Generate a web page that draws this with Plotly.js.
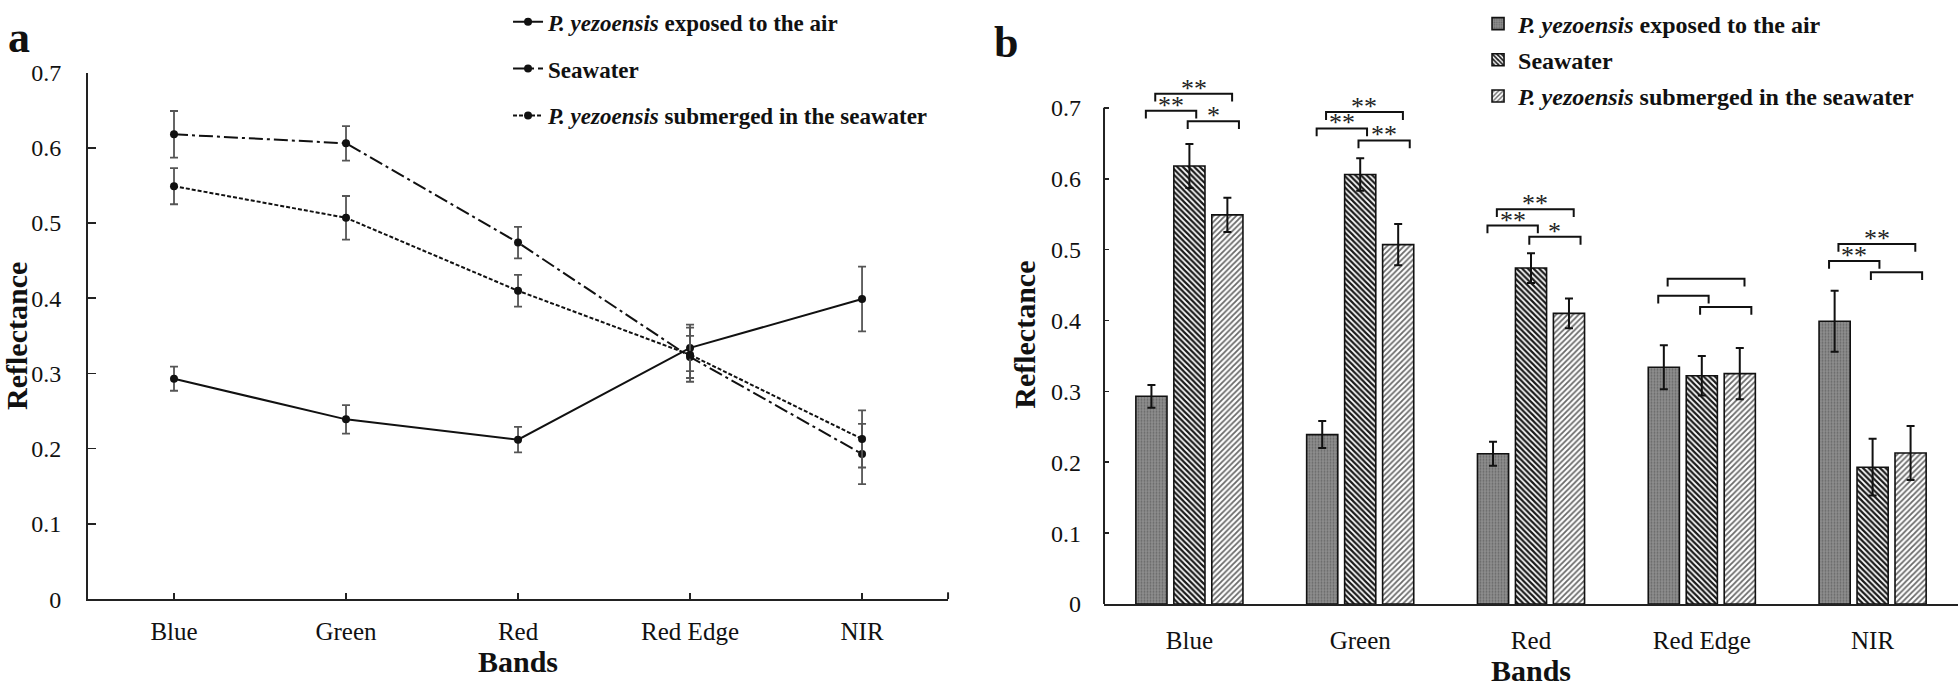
<!DOCTYPE html>
<html>
<head>
<meta charset="utf-8">
<script src="https://cdn.plot.ly/plotly-3.0.1.min.js"></script>
<style>
html,body{margin:0;padding:0;background:#fff;}
#chart{width:1960px;height:687px;}
</style>
</head>
<body>
<div id="chart"></div>
<script>
// ---------- data ----------
const bands = ['Blue', 'Green', 'Red', 'Red Edge', 'NIR'];
const seriesNames = [
  '<b><i>P. yezoensis</i> exposed to the air</b>',
  '<b>Seawater</b>',
  '<b><i>P. yezoensis</i> submerged in the seawater</b>'
];
const airMean = [0.293, 0.239, 0.212, 0.334, 0.399];
const airErr  = [0.016, 0.019, 0.017, 0.031, 0.043];
const seaMean = [0.618, 0.606, 0.474, 0.322, 0.193];
const seaErr  = [0.031, 0.023, 0.021, 0.028, 0.040];
const subMean = [0.549, 0.507, 0.410, 0.325, 0.213];
const subErr  = [0.024, 0.029, 0.021, 0.036, 0.038];
const yTickVals = [0, 0.1, 0.2, 0.3, 0.4, 0.5, 0.6, 0.7];
const yTickText = ['0', '0.1', '0.2', '0.3', '0.4', '0.5', '0.6', '0.7'];
// significance brackets (heights in reflectance units) and their labels
const sigAirSeaY = [0.696, 0.671, 0.534, 0.435, 0.484];
const sigSeaSubY = [0.681, 0.654, 0.518, 0.419, 0.468];
const sigAirSubY = [0.720, 0.694, 0.557, 0.459, 0.508];
const sigAirSeaLabel = ['**', '**', '**', '', '**'];
const sigSeaSubLabel = ['*', '**', '*', '', ''];
const sigAirSubLabel = ['**', '**', '**', '', '**'];

// ---------- styling ----------
const FONT = 'Liberation Serif, Times New Roman, serif';
const INK = '#111';
const xIdx = bands.map((_, i) => i);

const lineDash = ['solid', '14px,4px,3px,4px', '4px,2px'];
const leftMeans = [airMean, seaMean, subMean];
const leftErrs = [airErr, seaErr, subErr];

const traces = [];
leftMeans.forEach((m, k) => {
  traces.push({
    type: 'scatter', mode: 'lines+markers',
    x: xIdx, y: m, name: seriesNames[k],
    xaxis: 'x', yaxis: 'y', legend: 'legend', legendgroup: 'a' + k,
    line: {color: INK, width: 2, dash: lineDash[k]},
    marker: {color: INK, size: 8, symbol: 'circle'},
    error_y: {type: 'data', array: leftErrs[k], visible: true, color: '#555', thickness: 1.8, width: 4},
    hoverinfo: 'skip'
  });
});

const patterns = [
  {shape: '.', bgcolor: '#8e8e8e', fgcolor: '#666', size: 3, solidity: 0.3, fillmode: 'replace'},
  {shape: '\\', bgcolor: '#ffffff', fgcolor: '#1a1a1a', size: 4, solidity: 0.55, fillmode: 'replace'},
  {shape: '/', bgcolor: '#ffffff', fgcolor: '#6a6a6a', size: 4, solidity: 0.45, fillmode: 'replace'}
];
const barColors = ['#8a8a8a', '#333', '#999'];
leftMeans.forEach((m, k) => {
  traces.push({
    type: 'bar',
    x: xIdx, y: m, name: seriesNames[k],
    xaxis: 'x2', yaxis: 'y2', legend: 'legend2', legendgroup: 'b' + k,
    marker: {color: barColors[k], line: {color: INK, width: 1.6}, pattern: patterns[k]},
    error_y: {type: 'data', array: leftErrs[k], visible: true, color: INK, thickness: 2, width: 4},
    hoverinfo: 'skip'
  });
});

// ---------- shapes & annotations ----------
const shapes = [
  // right panel y axis line (stops at 0.7 like the original)
  {type: 'line', xref: 'x2 domain', yref: 'y2', x0: 0, x1: 0, y0: 0, y1: 0.7, line: {color: '#222', width: 2}},
  // end tick of left x axis
  {type: 'line', xref: 'x domain', yref: 'y', x0: 1, x1: 1, y0: 0, y1: 0.009, line: {color: '#222', width: 2}}
];
const annotations = [
  {text: '<b>a</b>', xref: 'paper', yref: 'paper', x: 0.003, y: 0.968, xanchor: 'left', yanchor: 'middle',
   showarrow: false, font: {family: FONT, size: 44, color: INK}},
  {text: '<b>b</b>', xref: 'paper', yref: 'paper', x: 0.506, y: 0.961, xanchor: 'left', yanchor: 'middle',
   showarrow: false, font: {family: FONT, size: 44, color: INK}}
];
const LEG = 0.011;
const bracketDefs = [
  {ys: sigAirSeaY, labels: sigAirSeaLabel, o0: -0.255, o1: 0.04},
  {ys: sigSeaSubY, labels: sigSeaSubLabel, o0: -0.01, o1: 0.29},
  {ys: sigAirSubY, labels: sigAirSubLabel, o0: -0.2, o1: 0.25}
];
bracketDefs.forEach(def => {
  def.ys.forEach((yv, i) => {
    const x0 = i + def.o0, x1 = i + def.o1;
    shapes.push({
      type: 'path', xref: 'x2', yref: 'y2',
      path: `M ${x0},${yv - LEG} L ${x0},${yv} L ${x1},${yv} L ${x1},${yv - LEG}`,
      line: {color: INK, width: 2}
    });
    if (def.labels[i]) {
      annotations.push({
        text: def.labels[i], xref: 'x2', yref: 'y2', x: (x0 + x1) / 2, y: yv,
        xanchor: 'center', yanchor: 'bottom', yshift: -11, showarrow: false,
        font: {family: FONT, size: 26, color: '#222'}
      });
    }
  });
});

const axisCommon = {
  showgrid: false, zeroline: false, showline: true, linecolor: '#222', linewidth: 2,
  fixedrange: true
};
const xTickFont = {family: FONT, size: 25, color: INK};
const yTickFont = {family: FONT, size: 24, color: INK};
const titleFont = {family: FONT, size: 30, color: INK};

const layout = {
  width: 1960, height: 687,
  margin: {l: 0, r: 0, t: 0, b: 0},
  paper_bgcolor: '#fff', plot_bgcolor: '#fff',
  font: {family: FONT, size: 24, color: INK},
  showlegend: true,
  barmode: 'group', bargap: 0.333, bargroupgap: 0.18,
  xaxis: Object.assign({}, axisCommon, {
    domain: [0.0449, 0.4837], range: [-0.5, 4.5], anchor: 'y',
    tickvals: xIdx, ticktext: bands, tickfont: xTickFont,
    ticks: 'inside', ticklen: 6, tickwidth: 1.6, tickcolor: '#222',
    ticklabelstandoff: 9,
    title: {text: '<b>Bands</b>', font: titleFont, standoff: 4}
  }),
  yaxis: Object.assign({}, axisCommon, {
    domain: [0.1310, 0.91557], range: [0, 0.7], anchor: 'x',
    tickvals: yTickVals, ticktext: yTickText, tickfont: yTickFont,
    ticks: 'inside', ticklen: 8, tickwidth: 1.6, tickcolor: '#222',
    ticklabelstandoff: 20,
    title: {text: '<b>Reflectance</b>', font: titleFont, standoff: 4}
  }),
  xaxis2: Object.assign({}, axisCommon, {
    domain: [0.56327, 0.99898], range: [-0.5, 4.5], anchor: 'y2',
    tickvals: xIdx, ticktext: bands, tickfont: xTickFont, ticks: '',
    ticklabelstandoff: 13,
    title: {text: '<b>Bands</b>', font: titleFont, standoff: 4}
  }),
  yaxis2: Object.assign({}, axisCommon, {
    domain: [0.12373, 0.92649], range: [0, 0.76], anchor: 'x2', showline: false,
    tickvals: yTickVals, ticktext: yTickText, tickfont: yTickFont,
    ticks: 'inside', ticklen: 5, tickwidth: 1.6, tickcolor: '#222',
    ticklabelstandoff: 22,
    title: {text: '<b>Reflectance</b>', font: titleFont, standoff: 6}
  }),
  legend: {
    x: 0.2592, y: 1.0235, xanchor: 'left', yanchor: 'top',
    traceorder: 'grouped', tracegroupgap: 14, bgcolor: 'rgba(0,0,0,0)',
    font: {family: FONT, size: 23, color: INK}, itemclick: false, itemdoubleclick: false
  },
  legend2: {
    x: 0.7541, y: 1.0216, xanchor: 'left', yanchor: 'top',
    traceorder: 'grouped', tracegroupgap: 2, bgcolor: 'rgba(0,0,0,0)',
    font: {family: FONT, size: 24, color: INK}, itemclick: false, itemdoubleclick: false
  },
  shapes: shapes,
  annotations: annotations
};

Plotly.newPlot('chart', traces, layout, {displayModeBar: false, staticPlot: true});
</script>
</body>
</html>
